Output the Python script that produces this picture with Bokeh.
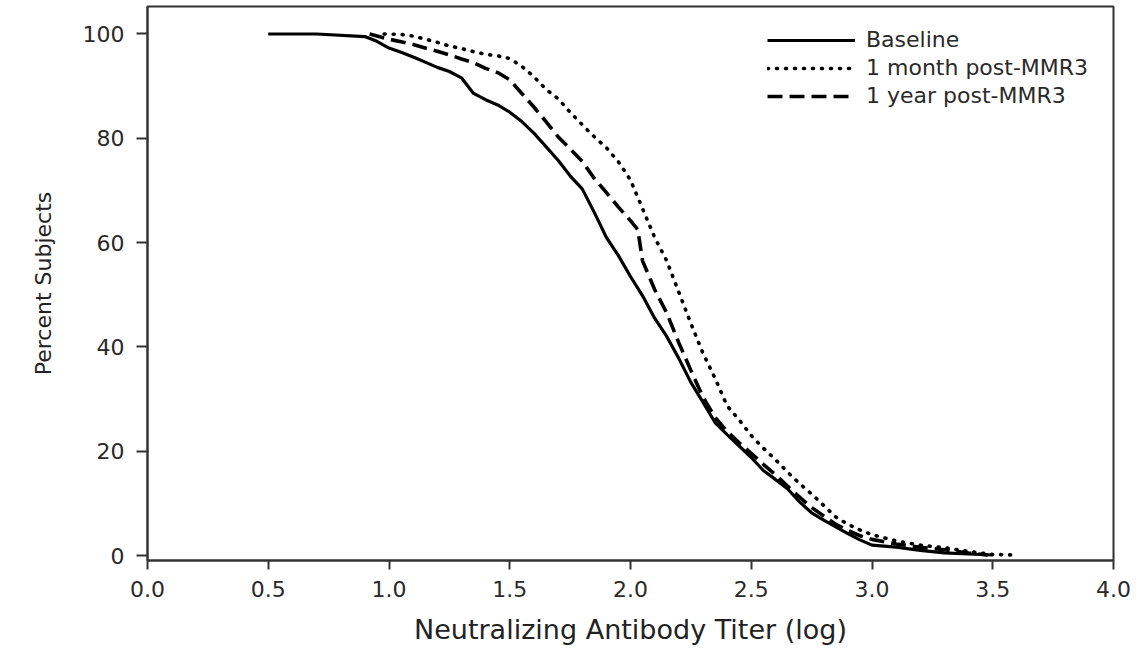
from bokeh.plotting import figure
from bokeh.models import Range1d, FixedTicker, Legend, LegendItem, NumeralTickFormatter
from bokeh.embed import file_html
from bokeh.resources import INLINE

# ---- data ----
baseline_x = [0.50, 0.70, 0.90, 0.95, 1.00, 1.05, 1.10, 1.15, 1.20, 1.25, 1.30, 1.35, 1.40, 1.45,
              1.50, 1.55, 1.60, 1.65, 1.70, 1.75, 1.80, 1.85, 1.90, 1.95, 2.00, 2.05, 2.10, 2.15,
              2.20, 2.25, 2.30, 2.35, 2.40, 2.45, 2.50, 2.55, 2.60, 2.65, 2.70, 2.75, 2.80, 2.85,
              2.90, 2.95, 3.00, 3.10, 3.20, 3.30, 3.40, 3.50]
baseline_y = [100.0, 100.0, 99.5, 98.6, 97.3, 96.5, 95.6, 94.6, 93.6, 92.8, 91.6, 88.6, 87.4, 86.4,
              85.0, 83.2, 81.0, 78.4, 75.8, 72.8, 70.3, 65.8, 61.0, 57.5, 53.5, 49.8, 45.5, 42.0,
              37.8, 33.2, 29.4, 25.5, 23.2, 21.0, 18.8, 16.3, 14.6, 12.8, 10.3, 8.2, 6.8, 5.5,
              4.2, 3.0, 2.0, 1.6, 1.0, 0.5, 0.3, 0.1]

month_x = [0.98, 1.05, 1.10, 1.15, 1.20, 1.25, 1.30, 1.35, 1.40, 1.45, 1.50, 1.55, 1.60, 1.65,
           1.70, 1.75, 1.80, 1.85, 1.90, 1.95, 2.00, 2.05, 2.10, 2.15, 2.20, 2.25, 2.30, 2.35,
           2.40, 2.45, 2.50, 2.55, 2.60, 2.65, 2.70, 2.75, 2.80, 2.85, 2.90, 2.95, 3.00, 3.10,
           3.20, 3.30, 3.40, 3.50, 3.60]
month_y = [100.0, 99.9, 99.6, 99.0, 98.4, 97.7, 97.2, 96.6, 96.1, 95.8, 95.3, 93.8, 91.8, 89.4,
           87.6, 85.0, 82.6, 80.3, 78.2, 75.5, 72.0, 66.5, 61.0, 56.5, 50.5, 44.5, 38.8, 34.0,
           28.7, 26.0, 23.0, 20.6, 18.4, 16.0, 13.8, 11.8, 9.6, 7.4, 6.0, 4.9, 4.0, 2.8,
           2.0, 1.5, 0.8, 0.2, 0.1]

year_x = [0.92, 1.00, 1.05, 1.10, 1.15, 1.20, 1.25, 1.30, 1.35, 1.40, 1.45, 1.50, 1.55, 1.60,
          1.65, 1.70, 1.75, 1.80, 1.85, 1.90, 1.95, 2.00, 2.03, 2.05, 2.10, 2.15, 2.20, 2.25,
          2.30, 2.35, 2.40, 2.45, 2.50, 2.55, 2.60, 2.65, 2.70, 2.75, 2.80, 2.85, 2.90, 2.95,
          3.00, 3.10, 3.20, 3.30, 3.40, 3.48]
year_y = [100.0, 99.0, 98.5, 98.0, 97.3, 96.7, 96.0, 95.2, 94.5, 93.4, 92.6, 91.2, 88.6, 86.0,
          83.2, 80.3, 78.0, 75.6, 72.3, 69.6, 66.8, 64.2, 62.5, 56.5, 51.0, 46.5, 40.8, 35.5,
          30.4, 26.5, 23.8, 21.6, 19.6, 17.5, 15.5, 13.3, 11.2, 9.2, 7.6, 6.0, 4.8, 3.8,
          3.1, 2.2, 1.6, 1.1, 0.5, 0.1]

series_labels = ["Baseline", "1 month post-MMR3", "1 year post-MMR3"]
x_ticks = [0.0, 0.5, 1.0, 1.5, 2.0, 2.5, 3.0, 3.5, 4.0]
y_ticks = [0, 20, 40, 60, 80, 100]

FONT = "DejaVu Sans"

p = figure(width=1134, height=647, output_backend="svg", toolbar_location=None,
           x_range=Range1d(0, 4), y_range=Range1d(-0.95, 105.27),
           min_border_left=147, min_border_right=21, min_border_top=6, min_border_bottom=85)
p.background_fill_color = "white"
p.border_fill_color = "white"
p.grid.visible = False
p.outline_line_color = "#333333"
p.outline_line_width = 2

# axes
for ax in (p.xaxis[0], p.yaxis[0]):
    ax.axis_line_color = "#333333"
    ax.axis_line_width = 2
    ax.major_tick_line_color = "#333333"
    ax.major_tick_line_width = 2
    ax.minor_tick_line_color = None
    ax.major_tick_in = 0
    ax.major_label_text_font = FONT
    ax.major_label_text_font_size = "22px"
    ax.major_label_text_color = "#2a2a2a"
    ax.axis_label_text_font = FONT
    ax.axis_label_text_font_style = "normal"
    ax.axis_label_text_color = "#222222"

p.xaxis.ticker = FixedTicker(ticks=x_ticks)
p.xaxis.formatter = NumeralTickFormatter(format="0.0")
p.xaxis.major_tick_out = 9
p.xaxis.major_label_standoff = 11
p.xaxis.axis_label = "Neutralizing Antibody Titer (log)"
p.xaxis.axis_label_text_font_size = "27px"
p.xaxis.axis_label_standoff = 14

p.yaxis.ticker = FixedTicker(ticks=y_ticks)
p.yaxis.major_tick_out = 11
p.yaxis.major_label_standoff = 12
p.yaxis.axis_label = "Percent Subjects"
p.yaxis.axis_label_text_font_size = "22px"
p.yaxis.axis_label_standoff = 24

r_base = p.line(baseline_x, baseline_y, line_color="black", line_width=3.2, line_join="round")
r_month = p.line(month_x, month_y, line_color="black", line_width=3.6, line_dash="1 8",
                 line_cap="round")
r_year = p.line(year_x, year_y, line_color="black", line_width=3.6, line_dash="15 7")

legend = Legend(items=[LegendItem(label=series_labels[0], renderers=[r_base]),
                       LegendItem(label=series_labels[1], renderers=[r_month]),
                       LegendItem(label=series_labels[2], renderers=[r_year])],
                location=(620, 452))
legend.border_line_color = None
legend.background_fill_alpha = 0
legend.padding = 0
legend.margin = 0
legend.spacing = 3
legend.glyph_width = 88
legend.glyph_height = 24
legend.label_height = 24
legend.label_standoff = 11
legend.label_text_font = FONT
legend.label_text_font_size = "22px"
legend.label_text_color = "#2a2a2a"
p.add_layout(legend)

open("out.html", "w").write(file_html(p, INLINE))
